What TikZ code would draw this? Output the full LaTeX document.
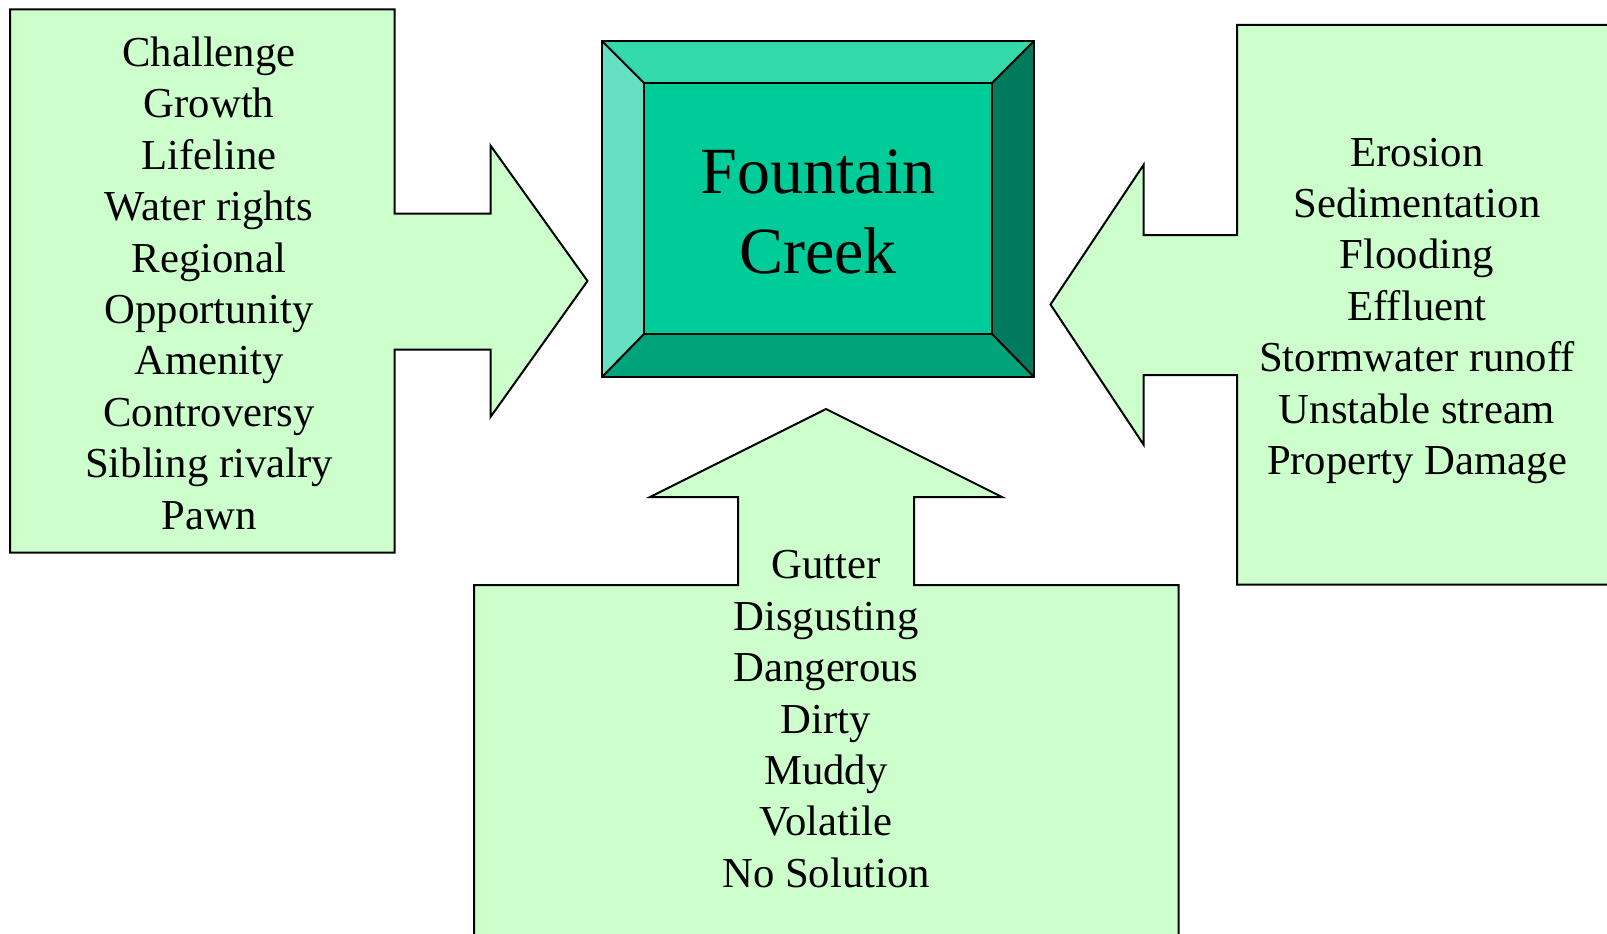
\documentclass[tikz,border=0pt]{standalone}
\usepackage{fontspec}
\setmainfont{Liberation Serif}
\definecolor{boxgreen}{HTML}{CCFFCC}
\definecolor{faceC}{HTML}{00CC99}
\definecolor{bevT}{HTML}{33D9AA}
\definecolor{bevL}{HTML}{66E0C2}
\definecolor{bevB}{HTML}{00A37A}
\definecolor{bevR}{HTML}{007A5C}
\tikzset{
  shapebox/.style={draw=black, line width=2pt, fill=boxgreen, line join=miter},
  bevel/.style={draw=black, line width=2pt, line join=miter},
  item/.style={anchor=base, inner sep=0pt, font=\fontsize{42.7}{51.4}\selectfont},
  title/.style={anchor=base, inner sep=0pt, font=\fontsize{66}{80}\selectfont}
}
\begin{document}
\begin{tikzpicture}[x=1pt, y=-1pt]
\useasboundingbox (0,0) rectangle (1607,934);
\begin{scope}
\clip (0,0) rectangle (1607,934);
% left arrow box
\draw[shapebox] (10,9.5) -- (394.5,9.5) -- (394.5,213.5) -- (490.5,213.5) -- (490.5,145.5)
  -- (587.5,281) -- (490.5,417) -- (490.5,349.5) -- (394.5,349.5) -- (394.5,552.5)
  -- (10,552.5) -- cycle;
% right arrow box
\draw[shapebox] (1650,25) -- (1237,25) -- (1237,235) -- (1143.5,235) -- (1143.5,165)
  -- (1050.5,304.5) -- (1143.5,444.5) -- (1143.5,375) -- (1237,375) -- (1237,584.5)
  -- (1650,584.5) -- cycle;
% bottom arrow box
\draw[shapebox] (474,990) -- (474,585) -- (738,585) -- (738,497) -- (650,497)
  -- (826,409) -- (1002,497) -- (914,497) -- (914,585) -- (1178.5,585)
  -- (1178.5,990) -- cycle;
\end{scope}
% central bevelled box
\coordinate (o1) at (602,41);
\coordinate (o2) at (1034,41);
\coordinate (o3) at (1034,377);
\coordinate (o4) at (602,377);
\coordinate (i1) at (644,83);
\coordinate (i2) at (992,83);
\coordinate (i3) at (992,334);
\coordinate (i4) at (644,334);
\fill[bevT] (o1) -- (o2) -- (i2) -- (i1) -- cycle;
\fill[bevR] (o2) -- (o3) -- (i3) -- (i2) -- cycle;
\fill[bevB] (o3) -- (o4) -- (i4) -- (i3) -- cycle;
\fill[bevL] (o4) -- (o1) -- (i1) -- (i4) -- cycle;
\fill[faceC] (i1) rectangle (i3);
\draw[bevel] (i1) rectangle (i3);
\draw[bevel] (o1) -- (i1) (o2) -- (i2) (o3) -- (i3) (o4) -- (i4);
\draw[bevel] (o1) rectangle (o3);
\node[title] (fc1) at (818,193) {Fountain};
\node[title] (fc2) at (818,273) {Creek};
% left texts
\foreach \t [count=\i] in {Challenge, Growth, Lifeline, Water rights, Regional,
  Opportunity, Amenity, Controversy, Sibling rivalry, Pawn}
  \node[item] (L\i) at (209, {66.4+51.4*(\i-1)}) {\t};
% right texts
\foreach \t [count=\i] in {Erosion, Sedimentation, Flooding, Effluent,
  Stormwater runoff, Unstable stream, Property Damage}
  \node[item] (R\i) at (1417, {166+51.4*(\i-1)}) {\t};
% bottom texts
\foreach \t [count=\i] in {Gutter, Disgusting, Dangerous, Dirty, Muddy,
  Volatile, No Solution}
  \node[item] (B\i) at (826, {578.8+51.4*(\i-1)}) {\t};
\end{tikzpicture}
\end{document}
